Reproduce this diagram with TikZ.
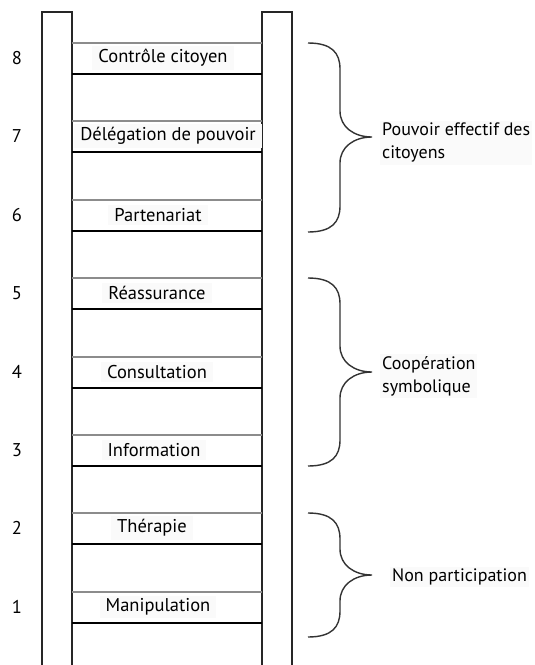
\documentclass[tikz,border=0pt]{standalone}
\usepackage{fontspec}
\setmainfont{PT Sans}

\begin{document}
\begin{tikzpicture}[x=1pt,y=-1pt,
  rail/.style={line width=1.8pt,black!85},
  rungtop/.style={line width=1.4pt,black!45},
  rungbot/.style={line width=2.2pt,black},
  rungtext/.style={fill=black!2,inner xsep=6pt,inner ysep=3pt,font=\fontsize{18.5}{21}\selectfont},
  levelnum/.style={font=\fontsize{18.5}{21}\selectfont},
  bracket/.style={line width=1.4pt,black!80},
  groupname/.style={fill=black!2,inner sep=2pt,anchor=north west,align=left,font=\fontsize{18}{23}\selectfont},
]
\useasboundingbox (0,0) rectangle (535,665);
\draw[rail] (42,670) -- (42,12) -- (72,12) -- (72,670);
\draw[rail] (262,670) -- (262,12) -- (292,12) -- (292,670);
\foreach \n/\y/\x/\t in {8/43/163/Contrôle citoyen,7/121/168/Délégation de pouvoir,6/200/158/Partenariat,5/278/157/Réassurance,4/357/157/Consultation,3/435/154/Information,2/513/152/Thérapie,1/592/158/Manipulation}{
  \draw[rungtop] (72,\y) -- (262,\y);
  \draw[rungbot] (72,\y+31) -- (262,\y+31);
  \node[rungtext] (rung\n) at (\x,\y+15) {\t};
  \node[levelnum] (num\n) at (17,\y+15) {\n};
}
\foreach \a/\m/\b in {43/137/232,278/372/466,513/575/637}{
  \draw[bracket] (308,\a) .. controls +(24,0) and +(0,-16) .. (340,\a+26) -- (340,\m-26)
    .. controls +(0,16) and +(-18,0) .. (372,\m)
    .. controls +(-18,0) and +(0,-16) .. (340,\m+26) -- (340,\b-26)
    .. controls +(0,16) and +(24,0) .. (308,\b);
}
\node[groupname] (pouvoir) at (380,121) {Pouvoir effectif des\\citoyens};
\node[groupname] (cooperation) at (380,354) {Coopération\\symbolique};
\node[groupname,anchor=west] (nonpart) at (390,577) {Non participation};
\end{tikzpicture}
\end{document}
